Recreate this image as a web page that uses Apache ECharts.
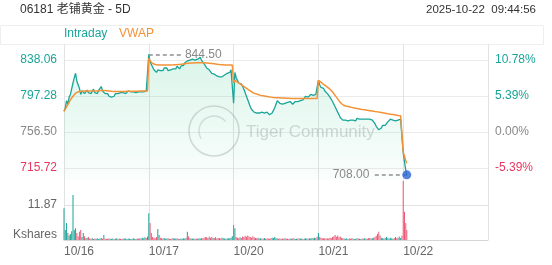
<!DOCTYPE html>
<html><head><meta charset="utf-8">
<script src="https://cdn.jsdelivr.net/npm/echarts@6/dist/echarts.min.js"></script>
<style>html,body{margin:0;padding:0;background:#fff}#c{width:552px;height:265px}</style>
</head><body><div id="c"></div>
<script>
// ---------- data ----------
var dayLabels = ['10/16', '10/17', '10/20', '10/21', '10/22'];
var prevClose = 756.50;
var priceTicks = [715.72, 756.50, 797.28, 838.06];
var volTicks = [0, 11.87];
var sessionMinutes = 330;
var stepMinutes = 5;
var d5Minutes = [0, 5, 10, 14];

var d1Price = [780,784,792,788,796, 799,801,812,818,823, 814,810,806,799,803, 805,800,802,804,801,
  803,800,802,805,801, 803,800,804,806,808, 803,805,800,798,800, 797,799,796,798,797,
  800,802,800,802,801, 803,801,802,800,802, 803,801,802,804,802, 803,801,803,802,804,
  802,803,802,804,803, 804];
var d2Price = [844.5,836,833,831,827, 825,824,827,829,826, 828,826,829,827,829, 826,828,827,829,828,
  830,828,831,830,828, 831,833,832,835,834, 837,836,838,837,839, 837,838,836,839,840,
  841,838,837,834,832, 829,830,827,825,823, 824,822,823,820,818, 819,817,819,818,821,
  820,823,825,824,827, 829];
var d3Price = [789,824,818,815,812, 813,811,808,805,803, 797,793,789,785,782, 781,779,780,778,779,
  778,780,779,777,778, 780,779,778,776,775, 778,781,784,788,792, 791,789,791,788,787,
  789,788,790,789,791, 790,788,789,791,793, 791,790,792,794,793, 795,797,798,796,797,
  799,800,798,800,799, 798];
var d4Price = [815,810,807,805,806, 803,802,800,798,796, 794,791,788,785,782, 779,776,773,771,770,
  772,770,771,769,771, 770,772,770,771,769, 772,770,771,773,771, 770,771,769,771,770,
  771,769,770,768,766, 763,761,759,758,761, 764,765,764,766,768, 770,771,769,770,768,
  769,768,770,769,771, 770];
var d5Price = [733, 723, 713, 708];

var d1Vwap = [780,782,785,787,790, 793,795,797,799,800.5, 801.5,802,802.5,802.5,802.8,
  803,803,803,803,803, 803,803,803,803,803, 803,803,803.2,803.3,803.4,
  803.4,803.4,803.3,803.2,803, 802.9,802.7,802.6,802.5,802.4, 802.4,802.4,802.4,802.4,802.4,
  802.5,802.5,802.5,802.5,802.6, 802.6,802.6,802.6,802.7,802.7, 802.7,802.8,802.8,802.8,802.9,
  802.9,802.9,803,803,803, 803];
var d2Vwap = [840,837,835,834,833.5, 833,832.7,832.5,832.5,832.4, 832.4,832.4,832.4,832.4,832.4,
  832.4,832.5,832.5,832.6,832.6, 832.7,832.8,832.9,833,833.1, 833.2,833.4,833.6,833.8,834,
  834.2,834.4,834.5,834.6,834.7, 834.8,834.8,834.9,834.9,835, 835,835,835,834.9,834.8,
  834.7,834.6,834.5,834.3,834.1, 833.9,833.7,833.5,833.3,833.1, 832.9,832.8,832.7,832.6,832.5,
  832.4,832.4,832.4,832.4,832.4, 832.4];
var d3Vwap = [812,815,814,813,812, 811,810,809,808,807, 806,805,804,803,802,
  801,800.5,800,799.5,799, 798.5,798,797.8,797.5,797.2, 797,796.8,796.5,796.3,796,
  795.8,795.6,795.5,795.4,795.3, 795.2,795.1,795,795,794.9, 794.8,794.7,794.6,794.6,794.5,
  794.5,794.5,794.5,794.5,794.5, 794.5,794.5,794.5,794.5,794.5, 794.5,794.5,794.5,794.5,794.5,
  794.5,794.5,794.5,794.5,794.5, 794.5];
var d4Vwap = [815,814,813,811.6,810.5, 809.5,808.5,807.3,806.2,805, 803.5,802,800,798,796,
  794,792,790,788.5,787, 786.5,786,785.6,785.4,785.2, 784.8,784.4,784,783.6,783.3,
  783,782.8,782.5,782.2,782, 781.8,781.6,781.4,781.2,781, 780.7,780.4,780.2,780,779.7,
  779.5,779.3,779,778.8,778.5, 778.3,778,777.8,777.5,777.2, 776.9,776.7,776.4,776.2,776,
  775.7,775.5,775.2,775,774.8, 774.6];
var d5Vwap = [734, 729, 724, 721];

var d1Vol = [10.8,3.4,5.8,2.4,1.5, 2.0,3.0,15.3,3.4,4.0, 2.4,1.2,2.8,3.4,1.0, 2.4,1.3,0.6,0.8,1.0,
  0.5,0.4,0.6,0.3,0.5, 0.4,0.6,0.3,0.5,0.7, 0.4,1.7,0.5,0.3,0.4, 0.6,0.3,0.4,0.5,0.3,
  0.4,0.6,0.3,0.5,0.4, 0.3,0.5,0.4,0.6,0.3, 0.4,0.5,0.3,0.4,0.6, 0.4,0.3,0.5,0.4,0.6,
  0.5,0.8,0.6,0.9,0.7, 1.2];
var d2Vol = [9.1,5.8,2.4,1.0,0.8, 0.6,1.0,3.7,1.7,0.8, 0.6,0.5,0.7,0.4,0.5, 0.6,0.4,0.3,0.5,0.7,
  0.4,0.6,0.5,0.4,0.3, 0.5,0.4,0.6,0.5,0.8, 2.8,1.3,0.6,0.5,0.4, 0.6,0.3,0.5,0.4,0.6,
  0.5,0.7,0.5,0.8,1.0, 0.9,0.7,1.2,0.8,1.0, 0.7,0.6,0.9,0.5,0.7, 0.6,0.5,0.8,0.6,0.5,
  0.4,0.6,0.5,0.7,0.8, 1.3];
var d3Vol = [5.1,4.0,1.0,0.8,0.6, 0.9,0.7,1.2,1.0,1.4, 1.1,1.5,1.2,1.0,0.8, 1.3,0.9,0.7,0.6,0.8,
  0.5,0.6,0.4,0.5,0.7, 0.4,0.6,0.5,0.4,0.6, 0.8,0.7,1.0,0.6,0.5, 0.4,0.6,0.3,0.5,0.4,
  0.6,0.5,0.4,0.3,0.5, 0.4,0.6,0.5,0.3,0.4, 0.5,0.6,0.4,0.5,0.3, 0.4,0.6,0.5,0.4,0.6,
  0.5,0.7,0.6,0.8,0.7, 1.1];
var d4Vol = [2.4,1.0,0.8,0.6,0.5, 0.7,0.4,0.6,0.5,0.8, 0.7,1.0,1.3,1.7,1.1, 1.5,0.9,1.2,0.8,0.6,
  0.5,0.4,0.6,0.3,0.5, 0.4,0.6,0.5,0.3,0.4, 0.6,0.5,0.4,0.3,0.5, 0.4,0.6,0.5,0.4,0.6,
  0.7,0.5,0.6,0.8,1.0, 1.4,2.0,2.8,1.5,0.8, 0.6,0.5,0.7,1.0,0.6, 0.5,0.8,0.6,0.4,0.7,
  1.0,0.6,0.8,1.2,0.7, 1.4];
var d5Vol = [20, 9.6, 5.8, 3.4];

// ---------- build series ----------
var dayPrices = [d1Price, d2Price, d3Price, d4Price, d5Price];
var dayVwaps = [d1Vwap, d2Vwap, d3Vwap, d4Vwap, d5Vwap];
var dayVols = [d1Vol, d2Vol, d3Vol, d4Vol, d5Vol];

var priceData = [], vwapData = [], volData = [];
dayPrices.forEach(function (arr, d) {
  arr.forEach(function (p, i) {
    var m = d === 4 ? d5Minutes[i] : i * stepMinutes;
    var x = d * sessionMinutes + m;
    priceData.push([x, p]);
    vwapData.push([x, dayVwaps[d][i]]);
    volData.push([x, dayVols[d][i]]);
  });
});
var volColors = priceData.map(function (pt, i) {
  if (i === 0) return '#1aa599';
  return pt[1] >= priceData[i - 1][1] ? '#1aa599' : '#ec5a78';
});

var hiIdx = 0, loIdx = 0;
priceData.forEach(function (pt, i) {
  if (pt[1] > priceData[hiIdx][1]) hiIdx = i;
  if (pt[1] < priceData[loIdx][1]) loIdx = i;
});
var hiPt = priceData[hiIdx], loPt = priceData[loIdx];
var lastPt = priceData[priceData.length - 1];

var TEAL = '#1aa599', ORANGE = '#f39237', RED = '#e8375f', GRAY = '#888';
var FONT = '"Helvetica Neue", Arial, "Liberation Sans", "Noto Sans CJK SC", sans-serif';
var PX = 36 / 40.78; // pixels per price unit
var yMax = 838.06 + 16 / PX, yMin = 715.72 - 12 / PX;

function priceColor(v) {
  if (Math.abs(v - prevClose) < 1e-6) return GRAY;
  return v > prevClose ? TEAL : RED;
}

var chart = echarts.init(document.getElementById('c'), null, {renderer: 'canvas'});
chart.setOption({
  animation: false,
  backgroundColor: '#fff',
  textStyle: {fontFamily: FONT},
  graphic: [
    {type: 'rect', shape: {x: 0.5, y: 25.5, width: 543, height: 19}, style: {fill: 'none', stroke: '#eeeeee', lineWidth: 1}, silent: true},
    {type: 'group', x: 20, y: 10, children: [
      {type: 'text', x: 0, y: 0, style: {x: 0, y: 0, text: '06181 老铺黄金 - 5D', fill: '#333', font: '12px ' + FONT, align: 'left', verticalAlign: 'middle'}}
    ]},
    {type: 'text', x: 536, y: 10, style: {text: '2025-10-22  09:44:56', fill: '#333', font: '11.5px ' + FONT, textAlign: 'right', textVerticalAlign: 'middle'}},
    {type: 'text', x: 64, y: 34, style: {text: 'Intraday', fill: TEAL, font: '12px ' + FONT, textAlign: 'left', textVerticalAlign: 'middle'}},
    {type: 'text', x: 119, y: 34, style: {text: 'VWAP', fill: ORANGE, font: '12px ' + FONT, textAlign: 'left', textVerticalAlign: 'middle'}},
    {type: 'circle', shape: {cx: 214, cy: 131, r: 25}, style: {fill: 'none', stroke: 'rgba(150,150,150,0.35)', lineWidth: 1.6}, silent: true, z: 1},
    {type: 'arc', shape: {cx: 214, cy: 131, r: 15, startAngle: 2.6, endAngle: 5.6}, style: {fill: 'none', stroke: 'rgba(150,150,150,0.3)', lineWidth: 1.4}, silent: true, z: 1},
    {type: 'text', x: 246, y: 132, style: {text: 'Tiger Community', fill: 'rgba(150,150,150,0.38)', font: '17px ' + FONT, textAlign: 'left', textVerticalAlign: 'middle'}, silent: true, z: 1}
  ],
  grid: [
    {left: 64, right: 64, top: 44, height: 136},
    {left: 64, right: 64, top: 180, height: 60}
  ],
  xAxis: [
    {gridIndex: 0, type: 'value', min: 0, max: sessionMinutes * 5, interval: sessionMinutes,
      axisLine: {show: false}, axisTick: {show: false}, axisLabel: {show: false},
      splitLine: {show: true, lineStyle: {color: '#e2e2e2', width: 1}}},
    {gridIndex: 1, type: 'value', min: 0, max: sessionMinutes * 5, interval: sessionMinutes,
      axisLine: {show: true, lineStyle: {color: '#d6d6d6'}}, axisTick: {show: false},
      axisLabel: {show: true, color: '#666', fontSize: 12, align: 'left', margin: 6,
        formatter: function (v) { var k = Math.round(v / sessionMinutes); return dayLabels[k] || ''; }},
      splitLine: {show: true, lineStyle: {color: '#e2e2e2', width: 1}}}
  ],
  yAxis: [
    {gridIndex: 0, type: 'value', position: 'left', min: yMin, max: yMax, scale: true,
      axisLine: {show: false}, axisTick: {show: false, customValues: priceTicks},
      axisLabel: {customValues: priceTicks, fontSize: 12, margin: 7,
        formatter: function (v) { return v.toFixed(2); },
        color: function (v) { return priceColor(+v); }},
      splitLine: {show: true, lineStyle: {color: '#ebebeb', width: 1}}},
    {gridIndex: 0, type: 'value', position: 'right', min: yMin, max: yMax, scale: true,
      axisLine: {show: false}, axisTick: {show: false, customValues: priceTicks},
      axisLabel: {customValues: priceTicks, fontSize: 12, margin: 7,
        formatter: function (v) { return ((v / prevClose - 1) * 100).toFixed(2) + '%'; },
        color: function (v) { return priceColor(+v); }},
      splitLine: {show: false}},
    {gridIndex: 1, type: 'value', position: 'left', min: 0, max: 60 * 11.87 / 35,
      axisLine: {show: false}, axisTick: {show: false, customValues: volTicks},
      axisLabel: {customValues: volTicks, fontSize: 12, margin: 7, color: '#666',
        formatter: function (v) { return v === 0 ? '{k|Kshares}' : v.toFixed(2); },
        rich: {k: {fontSize: 12, color: '#666', padding: [0, 0, 10, 0]}}},
      splitLine: {show: true, lineStyle: {color: '#e2e2e2', width: 1}}}
  ],
  series: [
    {name: 'Intraday', type: 'line', xAxisIndex: 0, yAxisIndex: 0, data: priceData,
      showSymbol: false, symbol: 'none', z: 3,
      lineStyle: {color: TEAL, width: 1.3},
      areaStyle: {origin: 'start', color: new echarts.graphic.LinearGradient(0, 0, 0, 1, [
        {offset: 0, color: 'rgba(54,200,140,0.26)'}, {offset: 1, color: 'rgba(54,200,140,0.03)'}])},
      markLine: {silent: true, symbol: ['none', 'none'], animation: false,
        lineStyle: {color: '#8f8f8f', type: [4, 3], width: 1.5},
        label: {show: true, position: 'end', color: '#888', fontSize: 12, distance: 4,
          formatter: function (p) { return (+p.value).toFixed(2); }},
        data: [
          [{coord: [hiPt[0], hiPt[1]], value: hiPt[1]}, {coord: [hiPt[0] + 125, hiPt[1]], value: hiPt[1]}],
          [{coord: [loPt[0], loPt[1]], value: loPt[1]}, {coord: [loPt[0] - 130, loPt[1]], value: loPt[1]}]
        ]}},
    {name: 'VWAP', type: 'line', xAxisIndex: 0, yAxisIndex: 0, data: vwapData,
      showSymbol: false, symbol: 'none', z: 4, lineStyle: {color: ORANGE, width: 1.5}},
    {type: 'scatter', xAxisIndex: 0, yAxisIndex: 0, data: [lastPt], symbolSize: 9, z: 6,
      itemStyle: {color: '#2a63d6'}},
    {name: 'Volume', type: 'bar', xAxisIndex: 1, yAxisIndex: 2, data: volData, barWidth: 1,
      itemStyle: {color: function (p) { return volColors[p.dataIndex]; }}}
  ]
});
</script></body></html>
